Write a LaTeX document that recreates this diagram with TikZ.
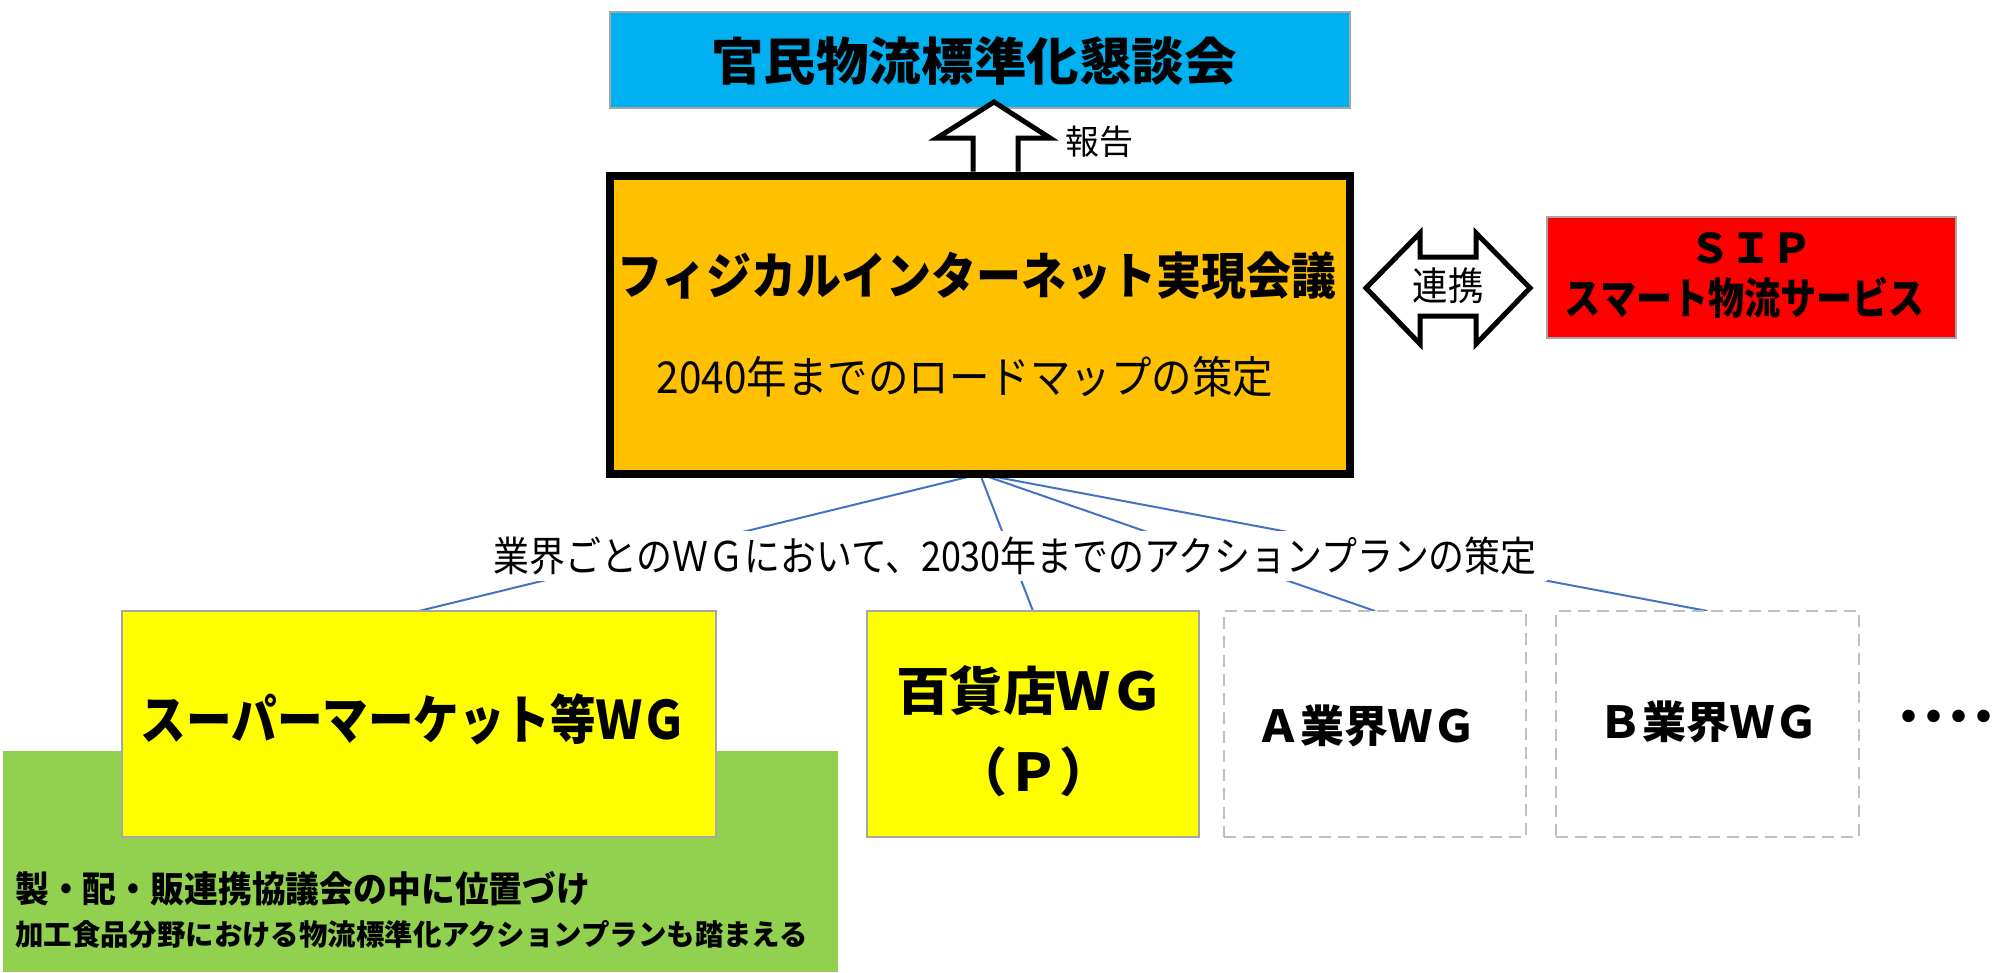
\documentclass[tikz,border=0pt]{standalone}
\usepackage{fontspec}
\usepackage{graphicx}
\setmainfont{Noto Sans CJK JP}
\usetikzlibrary{calc}
\definecolor{kblue}{HTML}{00B0F0}
\definecolor{korange}{HTML}{FFC000}
\definecolor{kred}{HTML}{FF0000}
\definecolor{kyellow}{HTML}{FFFF00}
\definecolor{kgreen}{HTML}{92D050}
\definecolor{lineblue}{HTML}{4472C4}
\definecolor{boxgray}{HTML}{A6A6A6}
\definecolor{dashgray}{HTML}{BFBFBF}
\newcommand\myfs[1]{\fontsize{#1}{#1}\selectfont}
\newcommand\sq[2]{\scalebox{#1}[1]{#2}}
\pgfdeclarelayer{bg}
\pgfsetlayers{bg,main}
\tikzset{
  panel/.style={rectangle, draw=boxgray, line width=1.5pt, outer sep=0pt, inner sep=0pt},
  wgdash/.style={rectangle, draw=dashgray, fill=white, line width=2.5pt, dash pattern=on 12pt off 7pt, outer sep=0pt, inner sep=0pt},
  link/.style={draw=lineblue, line width=2pt},
  blockarrow/.style={draw=black, fill=white, line width=5pt, line join=miter},
  txt/.style={inner sep=0pt, text=black},
}
\begin{document}
\begin{tikzpicture}[x=1pt,y=-1pt]
\useasboundingbox (0,0) rectangle (1993,972);

% top council
\node[panel, fill=kblue, minimum width=740pt, minimum height=96pt] (council) at (980,60) {};
\node[txt, font=\bfseries\myfs{51}] (counciltxt) at (974,61) {\sq{1.03}{官民物流標準化懇談会}};

% main meeting
\node[rectangle, draw=black, line width=8pt, fill=korange, minimum width=740pt, minimum height=298.5pt, outer sep=0pt] (pi) at (980,324.75) {};
\node[txt, font=\bfseries\myfs{50}] (pititle) at (977,276) {\sq{0.9}{フィジカルインターネット実現会議}};
\node[txt, font=\myfs{44}] (pisub) at (965,377) {\sq{0.92}{2040年までのロードマップの策定}};

% SIP
\node[panel, fill=kred, minimum width=409pt, minimum height=121pt] (sip) at (1751.5,277.5) {};
\node[txt, font=\bfseries\myfs{41}] (siptitle) at (1751,248) {ＳＩＰ};
\node[txt, font=\bfseries\myfs{43}] (sipname) at (1745,298) {\sq{0.84}{スマート物流サービス}};

% green area
\node[rectangle, fill=kgreen, minimum width=835pt, minimum height=221pt, anchor=north west, inner sep=0pt, outer sep=0pt] (green) at (3,751) {};
\node[txt, anchor=west, font=\bfseries\myfs{36}] (g1) at (15,889) {\sq{0.94}{製・配・販連携協議会の中に位置づけ}};
\node[txt, anchor=west, font=\bfseries\myfs{29}] (g2) at (15,934) {\sq{0.98}{加工食品分野における物流標準化アクションプランも踏まえる}};

% WG boxes
\node[panel, fill=kyellow, minimum width=594pt, minimum height=226pt] (super) at (419,724) {};
\node[txt, font=\bfseries\myfs{53}] (supertxt) at (414,719) {\sq{0.86}{スーパーマーケット等ＷＧ}};

\node[panel, fill=kyellow, minimum width=332pt, minimum height=226pt] (dept) at (1033,724) {};
\node[txt, font=\bfseries\myfs{52}] (depttxt) at (1030,691) {\sq{1.03}{百貨店ＷＧ}};
\node[txt, font=\bfseries\myfs{52}] (deptp) at (1033,772) {（Ｐ）};

\node[wgdash, minimum width=302pt, minimum height=226pt] (awg) at (1375,724) {};
\node[txt, font=\bfseries\myfs{44}] (awgtxt) at (1366,726) {Ａ業界ＷＧ};

\node[wgdash, minimum width=303pt, minimum height=226pt] (bwg) at (1707.5,724) {};
\node[txt, font=\bfseries\myfs{44}] (bwgtxt) at (1708,722) {Ｂ業界ＷＧ};

\node[txt, anchor=west, font=\bfseries\myfs{45}] (dots) at (1896,722) {\makebox[25pt]{・}\makebox[25pt]{・}\makebox[25pt]{・}\makebox[12.5pt][l]{\makebox[25pt]{・}}};

% connectors
\begin{pgfonlayer}{bg}
\draw[link] (pi.south) -- (super.north);
\draw[link] (pi.south) -- (dept.north);
\draw[link] (pi.south) -- (awg.north);
\draw[link] (pi.south) -- (bwg.north);
\end{pgfonlayer}
\node[fill=white, inner xsep=10pt, inner ysep=6pt, font=\myfs{41}] (wglabel) at (1015,556) {\sq{0.876}{業界ごとのＷＧにおいて、2030年までのアクションプランの策定}};

% report arrow
\draw[blockarrow] (973,171.5) -- (973,138) -- (937,138) -- (994,102) -- (1050,138) -- (1018,138) -- (1018,171.5);
\node[txt, font=\myfs{34}] (report) at (1099,142) {報告};

% cooperation double arrow
\draw[blockarrow] (1366,288) -- (1420,233) -- (1420,257) -- (1476,257) -- (1476,233) -- (1530,288) -- (1476,344) -- (1476,316) -- (1420,316) -- (1420,344) -- cycle;
\node[txt, font=\myfs{39}] (coop) at (1448,286) {\sq{0.91}{連携}};
\end{tikzpicture}
\end{document}
